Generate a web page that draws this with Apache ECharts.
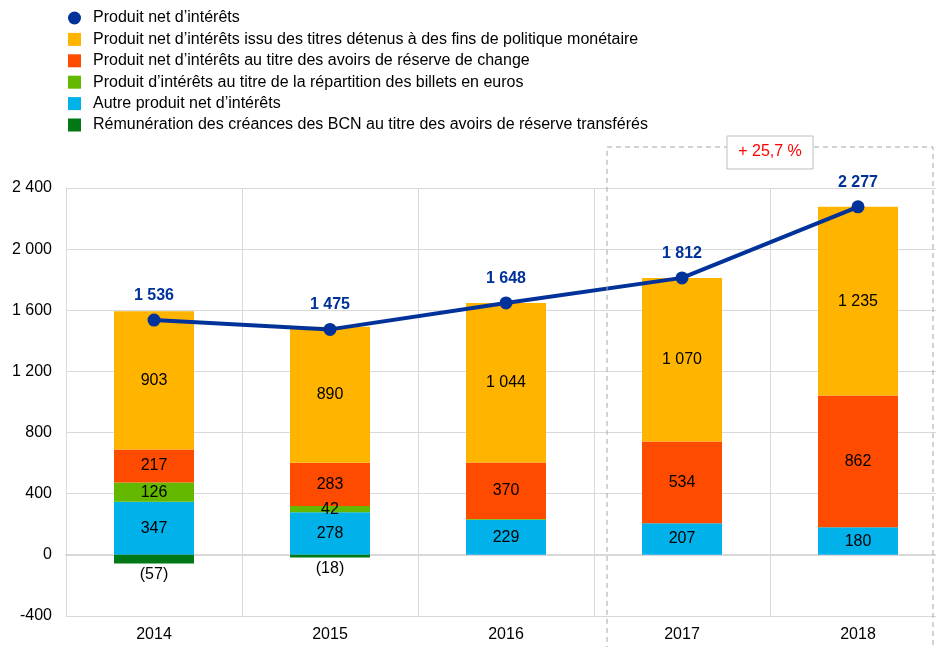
<!DOCTYPE html>
<html><head><meta charset="utf-8">
<script src="https://cdn.jsdelivr.net/npm/echarts@6/dist/echarts.min.js"></script>
<style>html,body{margin:0;padding:0;background:#fff;overflow:hidden}#c{width:960px;height:647px}</style>
</head><body><div id="c"></div>
<script>
const categories = ['2014','2015','2016','2017','2018'];
const totalNet = [1536, 1475, 1648, 1812, 2277];
const policySecurities = [903, 890, 1044, 1070, 1235];
const foreignReserves = [217, 283, 370, 534, 862];
const banknotes = [126, 42, 5, 0, 0];
const otherNet = [347, 278, 229, 207, 180];
const ncbRemuneration = [-57, -18, 0, 0, 0];
const yTicks = [-400, 0, 400, 800, 1200, 1600, 2000, 2400];
const growthLabel = '+ 25,7 %';

const names = [
  "Produit net d’intérêts",
  "Produit net d’intérêts issu des titres détenus à des fins de politique monétaire",
  "Produit net d’intérêts au titre des avoirs de réserve de change",
  "Produit d’intérêts au titre de la répartition des billets en euros",
  "Autre produit net d’intérêts",
  "Rémunération des créances des BCN au titre des avoirs de réserve transférés"
];
const colors = ['#003299','#FFB400','#FF4B00','#65B800','#00B1EA','#007816'];
const fmt = v => String(Math.abs(v)).replace(/\B(?=(\d{3})+(?!\d))/g, ' ');
const FONT = '"Liberation Sans", Arial, sans-serif';
const FS = 16;

function barSeries(name, data, color, minLabel) {
  return {
    name, type: 'bar', stack: 'tot', data, barWidth: 80,
    itemStyle: { color },
    label: {
      show: true, position: 'inside', color: '#000', fontSize: FS, fontFamily: FONT,
      formatter: p => (Math.abs(p.value) >= minLabel ? fmt(p.value) : '')
    },
    emphasis: { disabled: true }
  };
}

const chart = echarts.init(document.getElementById('c'), null, { renderer: 'canvas' });
const option = {
  animation: false,
  textStyle: { fontFamily: FONT },
  legend: {
    orient: 'vertical', left: 68, top: 10, padding: 0, itemGap: 5.4, itemWidth: 13, itemHeight: 13,
    textStyle: { fontSize: 16, lineHeight: 16, color: '#000', fontFamily: FONT, padding: [0, 0, 0, 7] },
    data: [
      { name: names[0], icon: 'circle' },
      { name: names[1], icon: 'rect' },
      { name: names[2], icon: 'rect' },
      { name: names[3], icon: 'rect' },
      { name: names[4], icon: 'rect' },
      { name: names[5], icon: 'rect' }
    ],
    selectedMode: false
  },
  grid: { left: 66, top: 188, width: 880, height: 428, containLabel: false },
  xAxis: {
    type: 'category', data: categories,
    axisLine: { show: true, lineStyle: { color: '#d9d9d9', width: 2 } },
    axisTick: { show: false },
    splitLine: { show: true, lineStyle: { color: '#d9d9d9', width: 1 } },
    axisLabel: { color: '#000', fontSize: FS, margin: 11, fontFamily: FONT }
  },
  yAxis: {
    type: 'value', min: yTicks[0], max: yTicks[yTicks.length - 1], interval: 400,
    axisLine: { show: true, lineStyle: { color: '#d9d9d9', width: 1 } },
    axisTick: { show: false },
    splitLine: { show: true, lineStyle: { color: '#d9d9d9', width: 1 } },
    axisLabel: { color: '#000', fontSize: FS, margin: 14, fontFamily: FONT,
      formatter: v => (v < 0 ? '-' : '') + fmt(v) }
  },
  series: [
    barSeries(names[4], otherNet, colors[4], 1),
    barSeries(names[3], banknotes, colors[3], 20),
    barSeries(names[2], foreignReserves, colors[2], 1),
    barSeries(names[1], policySecurities, colors[1], 1),
    Object.assign(barSeries(names[5], ncbRemuneration, colors[5], 1), {
      label: { show: true, position: 'bottom', distance: 3, color: '#000', fontSize: FS, fontFamily: FONT,
        formatter: p => (p.value !== 0 ? '(' + fmt(p.value) + ')' : '') }
    }),
    {
      name: names[0], type: 'line', data: totalNet, z: 10,
      symbol: 'circle', symbolSize: 13,
      lineStyle: { color: colors[0], width: 4 },
      itemStyle: { color: colors[0] },
      label: { show: true, position: 'top', distance: 10, color: colors[0], fontSize: FS,
        fontWeight: 'bold', fontFamily: FONT, formatter: p => fmt(p.value) },
      emphasis: { disabled: true }
    }
  ]
};
chart.setOption(option);

// Annotation box around 2017-2018 computed from axis positions
const p17 = chart.convertToPixel({ xAxisIndex: 0 }, '2017');
const p18 = chart.convertToPixel({ xAxisIndex: 0 }, '2018');
const step = p18 - p17;
const boxLeft = p17 - step * 0.426;
const boxRight = p18 + step * 0.426;
const boxTop = 147;
const lblCx = (p17 + p18) / 2;
chart.setOption({
  graphic: [
    { type: 'rect', z: 100, silent: true,
      shape: { x: boxLeft, y: boxTop, width: boxRight - boxLeft, height: 520 },
      style: { fill: null, stroke: '#a6a6a6', lineWidth: 1, lineDash: [5, 4] } },
    { type: 'rect', z: 101, silent: true,
      shape: { x: lblCx - 43, y: 136, width: 86, height: 33 },
      style: { fill: '#fff', stroke: '#bfbfbf', lineWidth: 1 } },
    { type: 'text', z: 102, silent: true, x: lblCx, y: 152,
      style: { text: growthLabel, fill: '#ff0000', fontSize: 16, fontFamily: FONT,
        align: 'center', verticalAlign: 'middle' } }
  ]
});
</script></body></html>
